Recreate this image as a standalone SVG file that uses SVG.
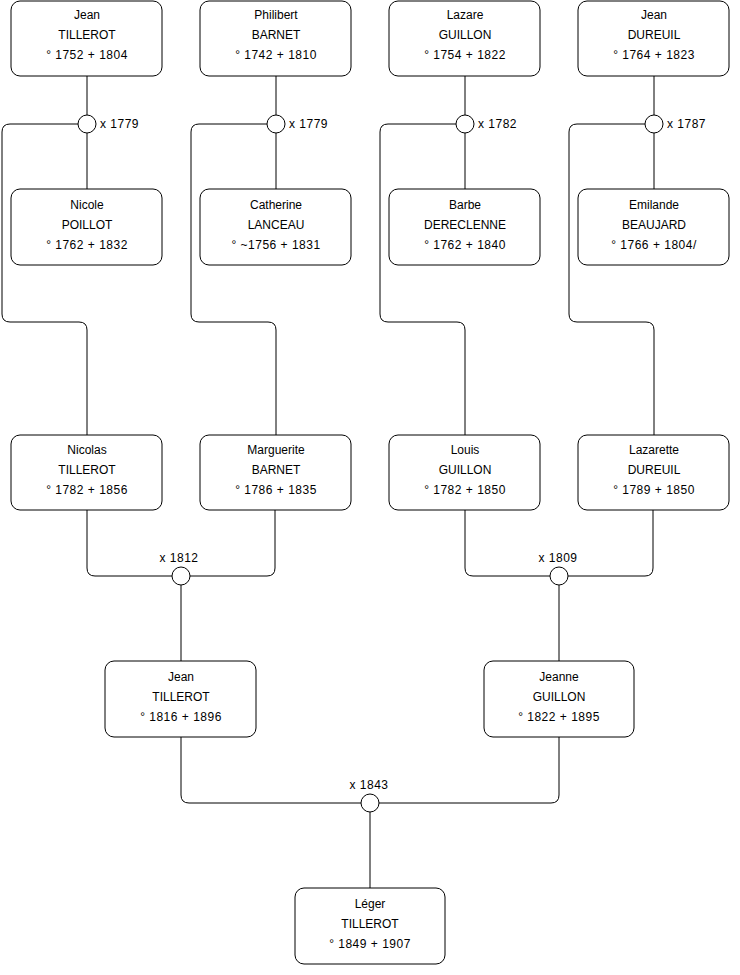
<svg xmlns="http://www.w3.org/2000/svg" width="740" height="975" viewBox="0 0 740 975">
<style>
.b{fill:#fff;stroke:#000;stroke-width:1}
.c{fill:#fff;stroke:#000;stroke-width:1}
.l{fill:none;stroke:#000;stroke-width:1}
text{font-family:"Liberation Sans",Arial,sans-serif;font-size:12px;fill:#000}
.m{text-anchor:middle}
.d{letter-spacing:0.5px}
</style>
<rect width="740" height="975" fill="#fff"/>
<g id="connectors">
<path class="l" d="M87,76V115M87,133V189M78,124H10Q2,124 2,132V314Q2,322 10,322H79Q87,322 87,330V435"/>
<path class="l" d="M276,76V115M276,133V189M267,124H199Q191,124 191,132V314Q191,322 199,322H268Q276,322 276,330V435"/>
<path class="l" d="M465,76V115M465,133V189M456,124H388Q380,124 380,132V314Q380,322 388,322H457Q465,322 465,330V435"/>
<path class="l" d="M654,76V115M654,133V189M645,124H577Q569,124 569,132V314Q569,322 577,322H646Q654,322 654,330V435"/>
<path class="l" d="M87,510V568Q87,576 95,576H172M190,576H267Q275,576 275,568V510M181,585V661"/>
<path class="l" d="M465,510V568Q465,576 473,576H550M568,576H645Q653,576 653,568V510M559,585V661"/>
<path class="l" d="M181,737V795Q181,803 189,803H361M379,803H551Q559,803 559,795V737M370,812V888"/>
<circle class="c" cx="87" cy="124" r="9"/><text class="d" x="100" y="128">x 1779</text>
<circle class="c" cx="276" cy="124" r="9"/><text class="d" x="289" y="128">x 1779</text>
<circle class="c" cx="465" cy="124" r="9"/><text class="d" x="478" y="128">x 1782</text>
<circle class="c" cx="654" cy="124" r="9"/><text class="d" x="667" y="128">x 1787</text>
<circle class="c" cx="181" cy="576" r="9"/><text class="m d" x="179" y="562">x 1812</text>
<circle class="c" cx="559" cy="576" r="9"/><text class="m d" x="558" y="562">x 1809</text>
<circle class="c" cx="370" cy="803" r="9"/><text class="m d" x="369" y="789">x 1843</text>
</g>
<g id="n1"><rect class="b" x="11" y="1" width="151" height="75" rx="9"/><text class="m" x="87" y="19">Jean</text><text class="m" x="87" y="39">TILLEROT</text><text class="m d" x="87" y="59">° 1752 + 1804</text></g>
<g id="n2"><rect class="b" x="200" y="1" width="151" height="75" rx="9"/><text class="m" x="276" y="19">Philibert</text><text class="m" x="276" y="39">BARNET</text><text class="m d" x="276" y="59">° 1742 + 1810</text></g>
<g id="n3"><rect class="b" x="389" y="1" width="151" height="75" rx="9"/><text class="m" x="465" y="19">Lazare</text><text class="m" x="465" y="39">GUILLON</text><text class="m d" x="465" y="59">° 1754 + 1822</text></g>
<g id="n4"><rect class="b" x="578" y="1" width="151" height="75" rx="9"/><text class="m" x="654" y="19">Jean</text><text class="m" x="654" y="39">DUREUIL</text><text class="m d" x="654" y="59">° 1764 + 1823</text></g>
<g id="n5"><rect class="b" x="11" y="189" width="151" height="76" rx="9"/><text class="m" x="87" y="209">Nicole</text><text class="m" x="87" y="229">POILLOT</text><text class="m d" x="87" y="249">° 1762 + 1832</text></g>
<g id="n6"><rect class="b" x="200" y="189" width="151" height="76" rx="9"/><text class="m" x="276" y="209">Catherine</text><text class="m" x="276" y="229">LANCEAU</text><text class="m d" x="276" y="249">° ~1756 + 1831</text></g>
<g id="n7"><rect class="b" x="389" y="189" width="151" height="76" rx="9"/><text class="m" x="465" y="209">Barbe</text><text class="m" x="465" y="229">DERECLENNE</text><text class="m d" x="465" y="249">° 1762 + 1840</text></g>
<g id="n8"><rect class="b" x="578" y="189" width="151" height="76" rx="9"/><text class="m" x="654" y="209">Emilande</text><text class="m" x="654" y="229">BEAUJARD</text><text class="m d" x="654" y="249">° 1766 + 1804/</text></g>
<g id="n9"><rect class="b" x="11" y="435" width="151" height="75" rx="9"/><text class="m" x="87" y="454">Nicolas</text><text class="m" x="87" y="474">TILLEROT</text><text class="m d" x="87" y="494">° 1782 + 1856</text></g>
<g id="n10"><rect class="b" x="200" y="435" width="151" height="75" rx="9"/><text class="m" x="276" y="454">Marguerite</text><text class="m" x="276" y="474">BARNET</text><text class="m d" x="276" y="494">° 1786 + 1835</text></g>
<g id="n11"><rect class="b" x="389" y="435" width="151" height="75" rx="9"/><text class="m" x="465" y="454">Louis</text><text class="m" x="465" y="474">GUILLON</text><text class="m d" x="465" y="494">° 1782 + 1850</text></g>
<g id="n12"><rect class="b" x="578" y="435" width="151" height="75" rx="9"/><text class="m" x="654" y="454">Lazarette</text><text class="m" x="654" y="474">DUREUIL</text><text class="m d" x="654" y="494">° 1789 + 1850</text></g>
<g id="n13"><rect class="b" x="105" y="661" width="151" height="76" rx="9"/><text class="m" x="181" y="681">Jean</text><text class="m" x="181" y="701">TILLEROT</text><text class="m d" x="181" y="721">° 1816 + 1896</text></g>
<g id="n14"><rect class="b" x="484" y="661" width="150" height="76" rx="9"/><text class="m" x="559" y="681">Jeanne</text><text class="m" x="559" y="701">GUILLON</text><text class="m d" x="559" y="721">° 1822 + 1895</text></g>
<g id="n15"><rect class="b" x="295" y="888" width="150" height="76" rx="9"/><text class="m" x="370" y="908">Léger</text><text class="m" x="370" y="928">TILLEROT</text><text class="m d" x="370" y="948">° 1849 + 1907</text></g>
</svg>
